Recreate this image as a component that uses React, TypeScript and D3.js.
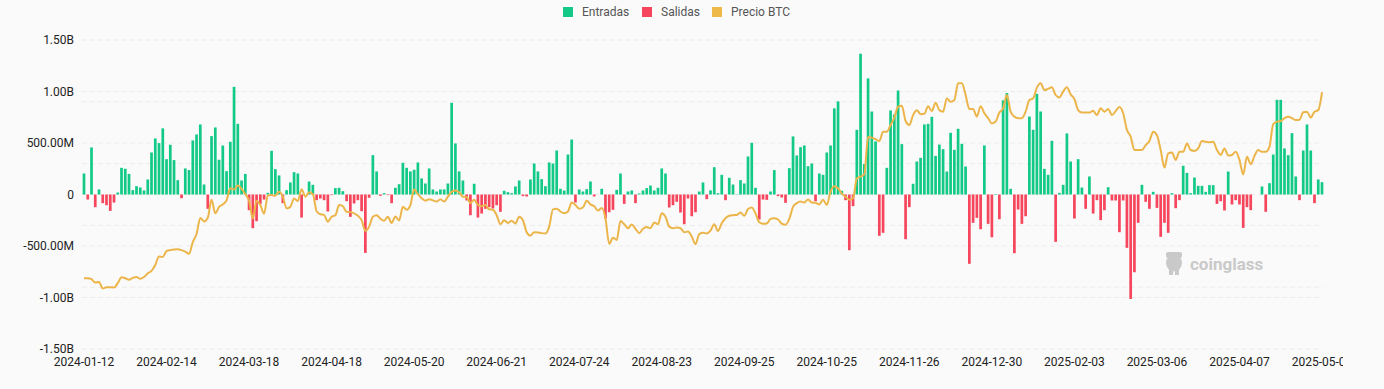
import * as d3 from "d3";
import React from "react";

// net flows in millions USD, one value per trading day (2024-01-12 .. 2025-05-08)
const flows = [
  204, -49, 457, -123, 49, -84, -104, -159, -78, 19,
  259, 250, 200, 42, 81, 68, 39, 146, 408, 544,
  499, 642, 343, 483, 334, 139, -36, 253, 237, 525,
  583, 680, 97, -139, 567, 651, 337, 476, 227, 512,
  1045, 686, 136, 200, -152, -327, -259, -91, -49, 16,
  424, 246, 185, -84, 42, 117, 217, 204, -224, 0,
  126, 94, -55, -39, -55, -165, -6, 62, 65, 32,
  -65, -217, -87, -55, -162, -567, -32, 382, 224, -13,
  13, -6, -84, 65, 100, 308, 259, 224, 240, 311,
  156, 107, 253, 49, 29, 49, 49, 107, 890, 496,
  224, 136, -58, -201, 104, -224, -185, -139, -123, -136,
  -104, -168, 36, 23, 13, 78, 136, -16, -19, 146,
  301, 224, 149, 81, 311, 301, 427, 55, 39, 388,
  534, -78, 49, 29, 52, 126, -19, 0, 55, -233,
  -172, -149, 45, 204, -91, 29, 39, -84, 10, 39,
  62, 87, 39, 65, 253, 204, -126, -104, -71, -175,
  -288, -39, -211, -172, 29, 117, -45, 40, 265, 13,
  191, -55, 162, 97, 3, 139, 107, 369, 502, 65,
  -243, -49, -52, 29, 237, -16, -29, -81, 256, 564,
  379, 460, 476, 275, 301, -65, 204, 191, 408, 476,
  836, 904, 36, -55, -541, -113, 628, 1367, 295, 1127,
  806, 515, -401, -372, 259, 816, 777, 1010, 489, -434,
  -123, 104, 320, 356, 680, 686, 754, 375, 485, 440,
  223, 599, 434, 638, 492, 272, -673, -275, -227, -337,
  476, -285, -415, 5, -240, 914, 985, 55, -570, -146,
  -285, -211, 757, 628, 977, 806, 249, 191, 521, -460,
  16, 94, 593, 320, -233, 343, 68, -139, 175, -185,
  -55, -249, -152, 71, -58, -58, -366, -58, -518, -1014,
  -755, -275, 94, -71, -139, 26, -130, -411, -275, -372,
  13, -133, -55, 279, 210, 13, 165, 84, 84, 26,
  91, 91, -91, -65, -155, 223, -97, -55, -97, -324,
  -123, -152, 0, 0, 78, -168, 110, 388, 919, 919,
  447, 382, 596, 175, -55, 427, 680, 427, -84, 146,
  120,
];

// BTC price in thousands USD, same days
const priceK = [
  42.9, 42.9, 42.6, 41.5, 41.7, 39.6, 40.0, 40.0, 39.9, 41.3,
  43.2, 42.9, 42.4, 43.0, 43.3, 42.7, 43.3, 44.5, 45.3, 47.2,
  49.9, 49.8, 51.7, 52.0, 52.2, 52.3, 52.0, 51.5, 50.8, 54.6,
  57.2, 62.4, 61.3, 62.5, 68.3, 63.9, 66.0, 66.8, 68.1, 72.0,
  71.6, 72.9, 71.8, 70.1, 68.0, 62.2, 68.0, 66.6, 63.8, 69.7,
  69.8, 69.6, 70.9, 69.3, 65.5, 66.0, 68.7, 67.9, 71.7, 69.3,
  70.7, 70.1, 64.6, 63.6, 63.4, 61.2, 62.8, 63.3, 66.6, 66.2,
  64.4, 64.3, 63.9, 63.1, 61.7, 58.2, 59.6, 62.8, 63.3, 62.2,
  61.5, 62.8, 60.8, 62.9, 61.6, 66.0, 65.1, 66.6, 71.6, 70.1,
  68.8, 68.0, 68.5, 68.1, 67.7, 68.5, 67.7, 69.3, 70.9, 71.3,
  70.7, 69.3, 69.2, 67.2, 68.3, 66.6, 66.2, 66.6, 65.2, 65.1,
  63.3, 60.4, 61.7, 60.8, 61.5, 60.6, 62.8, 61.7, 57.8, 56.7,
  57.8, 57.7, 57.5, 57.4, 59.6, 65.2, 65.4, 64.5, 63.9, 64.5,
  67.4, 66.6, 65.4, 65.8, 68.0, 66.8, 66.2, 64.8, 65.6, 62.3,
  54.0, 56.0, 55.3, 61.4, 60.4, 59.1, 60.3, 58.9, 57.5, 58.9,
  59.5, 59.1, 60.9, 60.4, 63.9, 62.8, 59.6, 59.1, 59.3, 59.1,
  57.8, 58.0, 56.4, 53.9, 57.2, 57.6, 57.4, 58.3, 60.4, 58.2,
  60.7, 62.3, 63.1, 63.3, 63.4, 64.2, 63.1, 65.3, 65.8, 63.9,
  61.0, 60.5, 60.6, 62.1, 62.3, 61.9, 60.6, 60.2, 62.1, 66.0,
  67.2, 67.7, 67.4, 68.4, 67.4, 67.3, 66.8, 68.3, 66.6, 70.9,
  72.7, 72.0, 70.3, 69.3, 68.3, 68.8, 75.2, 75.8, 76.5, 88.6,
  88.4, 87.9, 87.3, 90.3, 90.3, 92.5, 94.9, 98.4, 98.7, 93.8,
  92.5, 95.7, 97.3, 96.0, 96.1, 98.6, 97.0, 99.7, 97.3, 96.8,
  101.1, 100.0, 100.6, 106.0, 106.0, 102.2, 97.7, 97.7, 95.2, 98.6,
  96.3, 94.7, 93.0, 93.6, 96.5, 97.9, 102.2, 96.8, 95.2, 94.7,
  94.7, 96.8, 100.6, 101.1, 104.6, 106.0, 103.8, 104.2, 104.7, 102.2,
  101.4, 103.3, 104.7, 102.4, 100.9, 97.3, 96.5, 96.5, 96.5, 97.1,
  95.7, 97.9, 96.8, 97.7, 95.7, 97.0, 98.3, 96.3, 90.9, 88.7,
  84.4, 84.4, 84.4, 86.0, 87.3, 90.3, 89.2, 84.4, 78.7, 83.3,
  83.6, 81.2, 83.8, 83.8, 86.5, 84.4, 84.1, 84.9, 87.3, 87.1,
  86.9, 87.1, 84.4, 82.8, 84.9, 82.6, 82.8, 83.8, 81.2, 76.5,
  82.2, 79.8, 82.5, 84.4, 83.8, 83.8, 85.5, 92.8, 93.6, 93.8,
  94.7, 95.2, 94.7, 94.1, 94.2, 96.6, 96.8, 94.9, 96.8, 97.3,
  103.1,
];

// x-axis labels, one every 22 trading days
const dateLabels = [
  "2024-01-12", "2024-02-14", "2024-03-18", "2024-04-18", "2024-05-20", "2024-06-21",
  "2024-07-24", "2024-08-23", "2024-09-25", "2024-10-25", "2024-11-26", "2024-12-30",
  "2025-02-03", "2025-03-06", "2025-04-07", "2025-05-08",
];
const labelStep = 22;

const legendItems = [
  { name: "Entradas", color: "#12c987", x: 563 },
  { name: "Salidas", color: "#f6465d", x: 642 },
  { name: "Precio BTC", color: "#efb94a", x: 712 },
];

const GREEN = "#12c987";
const RED = "#f6465d";
const GOLD = "#ecb54a";
const FONT = "Roboto, 'Noto Sans', sans-serif";

const fmtFlow = (v: number) => {
  if (v === 0) return "0";
  if (Math.abs(v) >= 1e9) return (v / 1e9).toFixed(2) + "B";
  return (v / 1e6).toFixed(2) + "M";
};

export default function App() {
  const width = 1343;
  const height = 389;
  const left = 84;
  const right = 1322;
  const top = 40;
  const bottom = 349;

  const idx = flows.map((_, i) => i);
  const x = d3.scalePoint<number>().domain(idx).range([left, right]);
  const bw = x.step() * 0.72;

  const yFlow = d3.scaleLinear().domain([-1.5e9, 1.5e9]).range([bottom, top]);
  const yPrice = d3.scaleLinear().domain([20, 120]).range([bottom, top]);

  const flowTicks = yFlow.ticks(6);
  const priceTicks = yPrice.ticks(5).filter((t) => t > 20 && t < 120);

  const line = d3
    .line<number>()
    .x((_, i) => x(i) as number)
    .y((d) => yPrice(d))
    .curve(d3.curveMonotoneX);

  return (
    <div
      style={{
        position: "absolute",
        left: 0,
        top: 0,
        width: 1384,
        height: 389,
        background: "#fafafa",
      }}
    >
      <svg width={width} height={height} style={{ display: "block", overflow: "hidden" }} fontFamily={FONT}>
        {/* grid */}
        {flowTicks.map((t) => (
          <line key={"g" + t} x1={82} x2={1323} y1={yFlow(t)} y2={yFlow(t)} stroke="#ebebeb" strokeDasharray="5 3" />
        ))}
        {priceTicks.map((t) => (
          <line key={"p" + t} x1={82} x2={1323} y1={yPrice(t)} y2={yPrice(t)} stroke="#ebebeb" strokeDasharray="5 3" />
        ))}

        {/* y labels */}
        {flowTicks.map((t) => (
          <text key={"t" + t} x={74} y={yFlow(t)} dy="0.35em" textAnchor="end" fontSize={12} fill="#222">
            {fmtFlow(t)}
          </text>
        ))}

        {/* x labels */}
        {dateLabels.map((d, i) => (
          <text key={d} x={x(i * labelStep) as number} y={366} textAnchor="middle" fontSize={12} fill="#222">
            {d}
          </text>
        ))}

        {/* watermark */}
        <g fill="#c9c9c9">
          <ellipse cx={1174} cy={263} rx={8} ry={8.5} />
          <rect x={1166} y={252} width={16} height={6} rx={2} />
          <rect x={1169} y={268} width={4} height={7} />
          <rect x={1175} y={268} width={4} height={7} />
          <text x={1190} y={270} fontSize={17} fontWeight="bold">coinglass</text>
        </g>

        {/* bars */}
        {flows.map((v, i) => {
          const val = v * 1e6;
          const y0 = yFlow(Math.max(val, 0));
          const y1 = yFlow(Math.min(val, 0));
          return (
            <rect
              key={i}
              x={(x(i) as number) - bw / 2}
              y={y0}
              width={bw}
              height={Math.max(0, y1 - y0)}
              fill={v >= 0 ? GREEN : RED}
            />
          );
        })}

        {/* price */}
        <path d={line(priceK) || ""} fill="none" stroke={GOLD} strokeWidth={2} strokeLinejoin="round" />

        {/* legend */}
        {legendItems.map((l) => (
          <g key={l.name}>
            <rect x={l.x} y={7} width={10} height={10} fill={l.color} />
            <text x={l.x + 19} y={12} dy="0.35em" fontSize={12} fill="#555">
              {l.name}
            </text>
          </g>
        ))}
      </svg>
    </div>
  );
}
